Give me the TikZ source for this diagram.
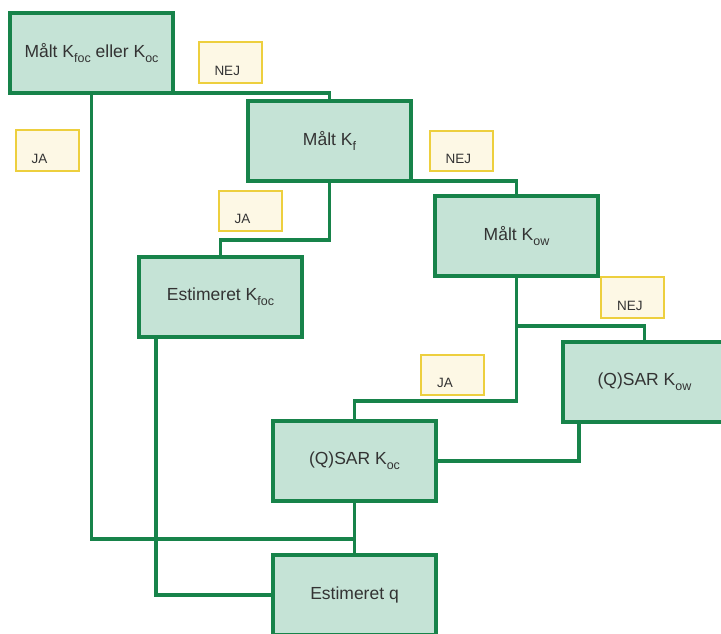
\documentclass[tikz,border=0pt]{standalone}
\usepackage{fontspec}
\setmainfont{Liberation Sans}
\usetikzlibrary{positioning}
\definecolor{boxgreen}{HTML}{C5E3D6}
\definecolor{linegreen}{HTML}{17834A}
\definecolor{tagyellow}{HTML}{EDCF3E}
\definecolor{tagfill}{HTML}{FDF8E5}
\definecolor{txtgray}{HTML}{333333}
\newcommand{\subtxt}[1]{\raisebox{-0.5ex}{\fontsize{12.5}{12.5}\selectfont #1}}
\tikzset{
    base/.style={draw=linegreen, line width=3.5pt, text=txtgray, align=center, outer sep=0pt},
    block/.style={base, rectangle, fill=boxgreen, minimum width=163pt, minimum height=80pt, font=\fontsize{17.5}{20}\selectfont},
    tag/.style={draw=tagyellow, line width=2pt, fill=tagfill, text=txtgray, font=\fontsize{13.5}{15}\selectfont, text width=31pt, align=left, inner xsep=16pt, inner ysep=4pt, text height=29pt, text depth=3.5pt},
    line/.style={draw=linegreen, line width=3.5pt}
}

\begin{document}
\begin{tikzpicture}[x=1pt, y=-1pt]
    \useasboundingbox (0,0) rectangle (721,634);
    \node [block] (Foc) at (91.5,53) {Målt K\subtxt{foc} eller K\subtxt{oc}};
    \node [block, below right=8pt and 75pt of Foc] (Kf) {Målt K\subtxt{f}};
    \node [block, below right=15pt and 24pt of Kf] (Kow) {Målt K\subtxt{ow}};
    \node [block, below=76pt of Kf, xshift=-109pt] (Kfoc) {Estimeret K\subtxt{foc}};
    \node [block, below=66pt of Kow, xshift=128pt] (Qkow) {(Q)SAR K\subtxt{ow}};
    \node [block, below=145pt of Kow, xshift=-162pt] (Qkoc) {(Q)SAR K\subtxt{oc}};
    \node [block, below=54pt of Qkoc] (Q) {Estimeret q};
    \coordinate [above=16pt of Q] (Join);

    \draw [line] (Foc.south east) -| (Kf.north);
    \draw [line] (Foc.south) |- (Join) -- (Q.north);
    \draw [line] (Kf.south east) -| (Kow.north);
    \draw [line] (Kf.south) -- ++(0,59) -| (Kfoc.north);
    \draw [line] (Kow.south) -- ++(0,50) -| (Qkow.north);
    \draw [line] (Kow.south) -- ++(0,125) -| (Qkoc.north);
    \draw [line] ([xshift=16pt]Qkow.south west) |- (Qkoc.east);
    \draw [line] (Qkoc.south) -- (Q.north);
    \draw [line] ([xshift=17pt]Kfoc.south west) |- (Q.west);

    \node [tag] (Nej1) at (230,62.5) {NEJ};
    \node [tag] (Ja1) at (47,150.5) {JA};
    \node [tag] (Nej2) at (461,151) {NEJ};
    \node [tag] (Ja2) at (250,211) {JA};
    \node [tag] (Nej3) at (632.5,297.5) {NEJ};
    \node [tag] (Ja3) at (452.5,375) {JA};
\end{tikzpicture}
\end{document}
